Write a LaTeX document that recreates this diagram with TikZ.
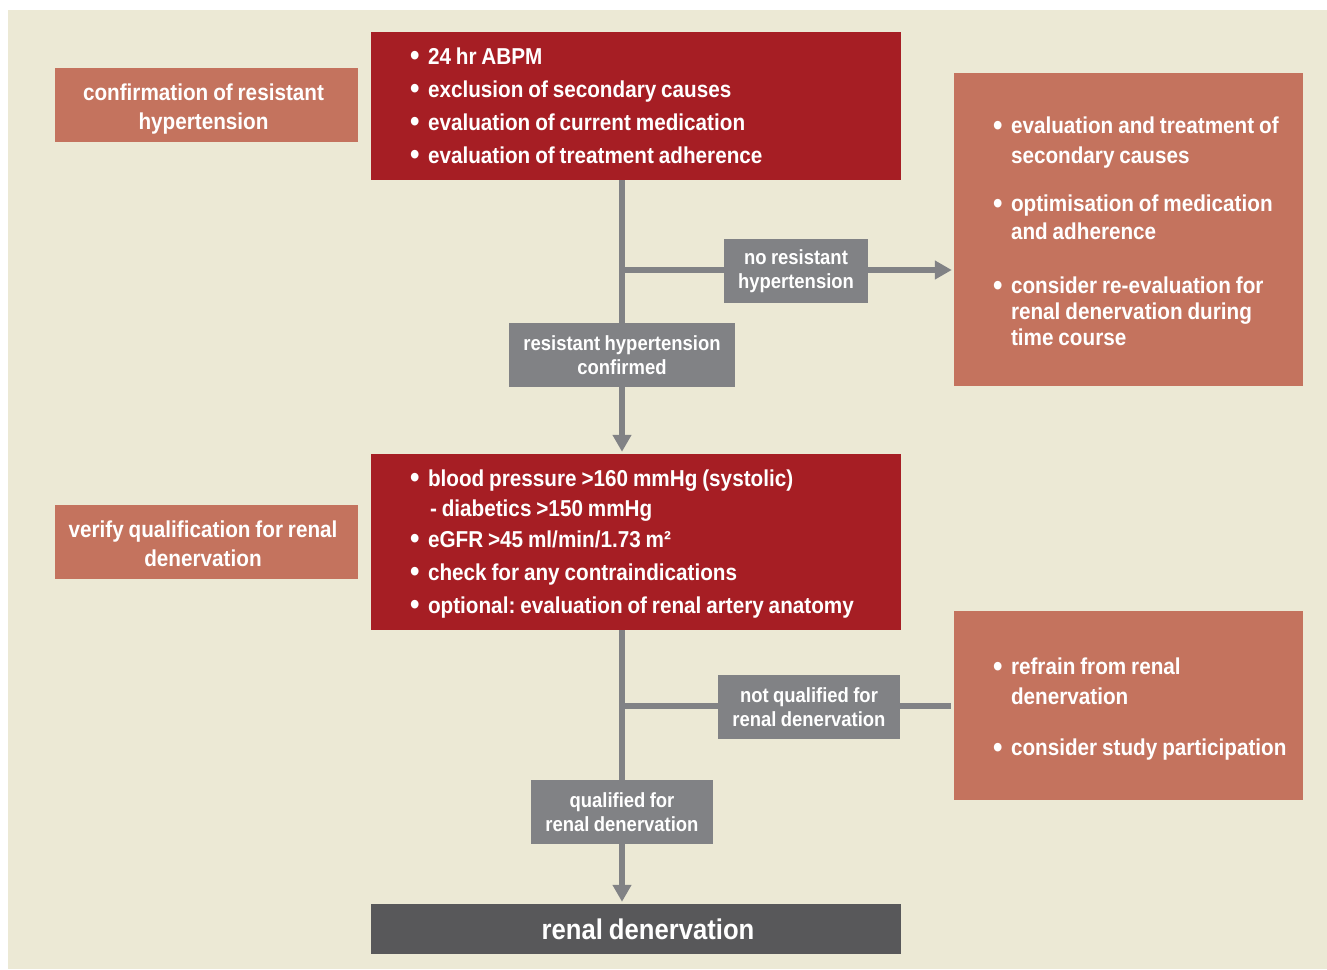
\documentclass[tikz,border=0pt]{standalone}
\usepackage{fontspec}
\setmainfont[FakeStretch=0.9,WordSpace=0.85]{Liberation Sans}
\usetikzlibrary{arrows.meta}
\definecolor{beige}{HTML}{ECE9D5}
\definecolor{salmon}{HTML}{C4735E}
\definecolor{darkred}{HTML}{A61E24}
\definecolor{lblgray}{HTML}{818285}
\definecolor{dkgray}{HTML}{58585A}
\frenchspacing
\newlength{\bw}\setlength{\bw}{19pt}
\newcommand{\bl}{\makebox[\bw][l]{\hspace*{1pt}\raisebox{-1.3pt}{\scalebox{1.3}{\textbullet}}}}
\newcommand{\ind}{\hspace*{\bw}}
\tikzset{
  box/.style={rectangle, draw=none, inner sep=0pt},
  salbox/.style={box, fill=salmon},
  redbox/.style={box, fill=darkred},
  txt/.style={text=white, inner sep=0pt, font=\bfseries},
  listtext/.style={txt, align=left, anchor=west},
  lbl/.style={box, fill=lblgray, text=white, align=center, font=\bfseries\fontsize{20.5}{24}\selectfont},
  conn/.style={draw=lblgray, line width=5.5pt},
  arr/.style={-{Triangle[length=17pt,width=18pt]}, shorten >=2pt},
}
\begin{document}
\begin{tikzpicture}[x=1pt,y=-1pt]
\useasboundingbox (0,0) rectangle (1327,969);
\fill[beige] (8,10) rectangle (1327,969);

% left boxes
\node[salbox, minimum width=303pt, minimum height=74pt] (lb1) at (206.5,105) {};
\node[txt, align=center, font=\bfseries\fontsize{23}{29}\selectfont] (lb1t)
  at ([xshift=-3pt,yshift=-4pt]lb1.center) {confirmation of resistant\\hypertension};
\node[salbox, minimum width=303pt, minimum height=74pt] (lb2) at (206.5,542) {};
\node[txt, align=center, font=\bfseries\fontsize{23}{29}\selectfont] (lb2t)
  at ([xshift=-3.5pt,yshift=-2pt]lb2.center) {verify qualification for renal\\denervation};

% central red boxes
\node[redbox, minimum width=530pt, minimum height=148pt] (top) at (636,106) {};
\node[listtext, font=\bfseries\fontsize{23}{33}\selectfont] (topt)
  at ([xshift=38pt]top.west)
  {\bl 24 hr ABPM\\
   \bl exclusion of secondary causes\\
   \bl evaluation of current medication\\
   \bl evaluation of treatment adherence};
\node[redbox, minimum width=530pt, minimum height=176pt] (mid) at (636,542) {};
\node[listtext, font=\bfseries\fontsize{23}{30}\selectfont] (midt)
  at ([xshift=38pt,yshift=-2pt]mid.west)
  {\bl blood pressure >160 mmHg (systolic)\\
   \ind\hspace*{2pt}- diabetics >150 mmHg\\[1pt]
   \bl eGFR >45 ml/min/1.73 m²\\[3pt]
   \bl check for any contraindications\\[3pt]
   \bl optional: evaluation of renal artery anatomy};

% right boxes
\node[salbox, minimum width=349pt, minimum height=313pt] (rb1) at (1128.5,229.5) {};
\node[listtext, font=\bfseries\fontsize{23}{26}\selectfont] (rb1t)
  at ([xshift=38pt,yshift=-2pt]rb1.west)
  {\bl evaluation and treatment of\\[4pt]
   \ind secondary causes\\[22pt]
   \bl optimisation of medication\\[2pt]
   \ind and adherence\\[28pt]
   \bl consider re-evaluation for\\
   \ind renal denervation during\\
   \ind time course};
\node[salbox, minimum width=349pt, minimum height=189pt] (rb2) at (1128.5,705.5) {};
\node[listtext, font=\bfseries\fontsize{23}{30}\selectfont] (rb2t)
  at ([xshift=38pt,yshift=-4pt]rb2.west)
  {\bl refrain from renal\\
   \ind denervation\\[21pt]
   \bl consider study participation};

% final box
\node[box, fill=dkgray, minimum width=530pt, minimum height=50pt] (bot) at (636,929) {};
\node[txt, font=\bfseries\fontsize{28.5}{30}\selectfont] (bott)
  at ([xshift=12pt]bot.center) {renal denervation};

% connectors
\coordinate (v1) at (622,0);
\coordinate (j1) at (622,270);
\coordinate (j2) at (622,706);
\draw[conn, arr] (top.south -| v1) -- (mid.north -| v1);
\draw[conn, arr] (j1) -- (j1 -| rb1.west);
\draw[conn, arr] (mid.south -| v1) -- (bot.north -| v1);
\draw[conn, shorten >=3pt] (j2) -- (j2 -| rb2.west);

% gray labels
\node[lbl, minimum width=144pt, minimum height=64pt] (g1) at (796,271)
  {no resistant\\hypertension};
\node[lbl, minimum width=226pt, minimum height=64pt] (g2) at (622,355)
  {resistant hypertension\\confirmed};
\node[lbl, minimum width=182pt, minimum height=64pt] (g3) at (809,707)
  {not qualified for\\renal denervation};
\node[lbl, minimum width=182pt, minimum height=64pt] (g4) at (622,812)
  {qualified for\\renal denervation};
\end{tikzpicture}
\end{document}
